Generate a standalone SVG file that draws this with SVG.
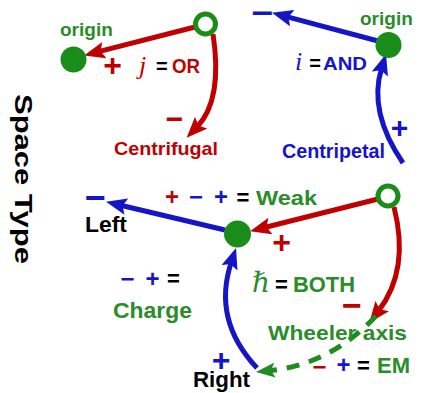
<svg xmlns="http://www.w3.org/2000/svg" width="421" height="393" viewBox="0 0 421 393">
<style>
.t{font-family:"Liberation Sans",Arial,sans-serif;font-weight:bold}
.m{font-family:"Liberation Serif","DejaVu Serif",serif;font-style:italic}
.g{fill:#2a8c2a}.r{fill:#c00000}.bl{fill:#1414c8}.k{fill:#000}
.ln{fill:none;stroke-width:5}
.sr{stroke:#c00000}.sb{stroke:#1414c8}.sg{stroke:#1e8c1e}
.hol{fill:#fff;stroke:#1a8c1a;stroke-width:5}
.fil{fill:#1a8c1a}
</style>
<defs>
<marker id="ar" markerUnits="userSpaceOnUse" markerWidth="21" markerHeight="17" refX="6" refY="8.5" orient="auto" viewBox="0 0 21 17"><path d="M0,0 L21,8.5 L0,17 L4,8.5 z" fill="#c00000"/></marker>
<marker id="ab" markerUnits="userSpaceOnUse" markerWidth="21" markerHeight="17" refX="6" refY="8.5" orient="auto" viewBox="0 0 21 17"><path d="M0,0 L21,8.5 L0,17 L4,8.5 z" fill="#1414c8"/></marker>
<marker id="ag" markerUnits="userSpaceOnUse" markerWidth="19" markerHeight="15" refX="6" refY="7.5" orient="auto" viewBox="0 0 19 15"><path d="M0,0 L19,7.5 L0,15 L4,7.5 z" fill="#1e8c1e"/></marker>
</defs>
<rect width="421" height="393" fill="#fff"/>

<g id="connectors">
<path class="ln sr" d="M195,27 L98.6,51.7" marker-end="url(#ar)"/>
<path class="ln sr" d="M213,34 Q223,100 197,127" marker-end="url(#ar)"/>
<path class="ln sb" d="M378,41 L286.5,16.6" marker-end="url(#ab)"/>
<path class="ln sb" d="M403,163 Q368,112 381.6,68.3" marker-end="url(#ab)"/>
<path class="ln sr" d="M378,199 L264.6,227.5" marker-end="url(#ar)"/>
<path class="ln sb" d="M225,230 L120.6,205.2" marker-end="url(#ab)"/>
<path class="ln sb" d="M257,368 Q212,320 231.3,262.2" marker-end="url(#ab)"/>
<path class="ln sr" d="M394,207 Q410,270 378.5,310.9" marker-end="url(#ar)"/>
<path class="ln sg" stroke-width="4.5" stroke-dasharray="13 10" d="M376,316 Q330,365 268.9,370.7" marker-end="url(#ag)"/>
</g>

<g id="tl-source"><circle class="hol" cx="205.5" cy="24" r="10"/></g>
<g id="tl-origin"><circle class="fil" cx="73.5" cy="59.5" r="13"/><text class="t g" x="60" y="36" font-size="19">origin</text></g>
<g id="tr-origin"><circle class="fil" cx="388.5" cy="45" r="13"/><text class="t g" x="360" y="25" font-size="19">origin</text></g>
<g id="b-source"><circle class="hol" cx="388" cy="196" r="10"/></g>
<g id="b-center"><circle class="fil" cx="237.5" cy="234" r="13.5"/></g>

<g id="space-type"><text class="t k" font-size="24" transform="translate(14.5,94) rotate(90)" textLength="170" lengthAdjust="spacingAndGlyphs">Space Type</text></g>

<g id="labels-top-left">
<text class="t r" x="112.5" y="75.5" font-size="32" text-anchor="middle">+</text>
<text class="m r" x="139" y="74" font-size="26">j</text>
<text class="t k" x="156" y="73" font-size="20">=</text>
<text class="t r" x="172" y="73" font-size="20" textLength="28" lengthAdjust="spacingAndGlyphs">OR</text>
<text class="t r" x="174.5" y="128.5" font-size="30" text-anchor="middle">−</text>
<text class="t r" x="114" y="155" font-size="19" textLength="104" lengthAdjust="spacingAndGlyphs">Centrifugal</text>
</g>

<g id="labels-top-right">
<text class="t bl" x="262.5" y="22.5" font-size="30" text-anchor="middle" textLength="22" lengthAdjust="spacingAndGlyphs">−</text>
<text class="m bl" x="295" y="70" font-size="26">i</text>
<text class="t k" x="315" y="70" font-size="20" text-anchor="middle">=</text>
<text class="t bl" x="323" y="70" font-size="19" textLength="44" lengthAdjust="spacingAndGlyphs">AND</text>
<text class="t bl" x="399.5" y="138" font-size="30" text-anchor="middle">+</text>
<text class="t bl" x="282" y="158" font-size="20" textLength="103" lengthAdjust="spacingAndGlyphs">Centripetal</text>
</g>

<g id="labels-bottom">
<text class="t r" x="172" y="205" font-size="24" text-anchor="middle">+</text>
<text class="t bl" x="196" y="205" font-size="24" text-anchor="middle">−</text>
<text class="t bl" x="221" y="205" font-size="24" text-anchor="middle">+</text>
<text class="t k" x="243" y="205" font-size="22" text-anchor="middle">=</text>
<text class="t g" x="256" y="205" font-size="21" textLength="61" lengthAdjust="spacingAndGlyphs">Weak</text>
<text class="t bl" x="95" y="209.6" font-size="36" text-anchor="middle">−</text>
<text class="t k" x="85" y="232" font-size="22" textLength="42" lengthAdjust="spacingAndGlyphs">Left</text>
<text class="t r" x="281.5" y="253" font-size="32" text-anchor="middle">+</text>
<text class="t bl" x="127.5" y="287" font-size="24" text-anchor="middle">−</text>
<text class="t bl" x="152.5" y="287" font-size="24" text-anchor="middle">+</text>
<text class="t k" x="173.5" y="286" font-size="22" text-anchor="middle">=</text>
<text class="t g" x="113" y="318" font-size="22" textLength="79" lengthAdjust="spacingAndGlyphs">Charge</text>
<text x="252" y="292" font-size="28" font-family="'DejaVu Serif','Liberation Serif',serif" font-style="italic" class="g">ℏ</text>
<text class="t k" x="275" y="292" font-size="22">=</text>
<text class="t g" x="293" y="292" font-size="22" textLength="62" lengthAdjust="spacingAndGlyphs">BOTH</text>
<text class="t r" x="352" y="317" font-size="34" text-anchor="middle">−</text>
<text class="t g" x="268" y="340" font-size="21" textLength="139" lengthAdjust="spacingAndGlyphs">Wheeler axis</text>
<text class="t r" x="319.5" y="375" font-size="24" text-anchor="middle">−</text>
<text class="t bl" x="343.5" y="373" font-size="24" text-anchor="middle">+</text>
<text class="t k" x="363.5" y="373" font-size="22" text-anchor="middle">=</text>
<text class="t g" x="377" y="373" font-size="22" textLength="33" lengthAdjust="spacingAndGlyphs">EM</text>
<text class="t bl" x="221" y="371" font-size="32" text-anchor="middle">+</text>
<text class="t k" x="193" y="387" font-size="22" textLength="57" lengthAdjust="spacingAndGlyphs">Right</text>
</g>
</svg>
